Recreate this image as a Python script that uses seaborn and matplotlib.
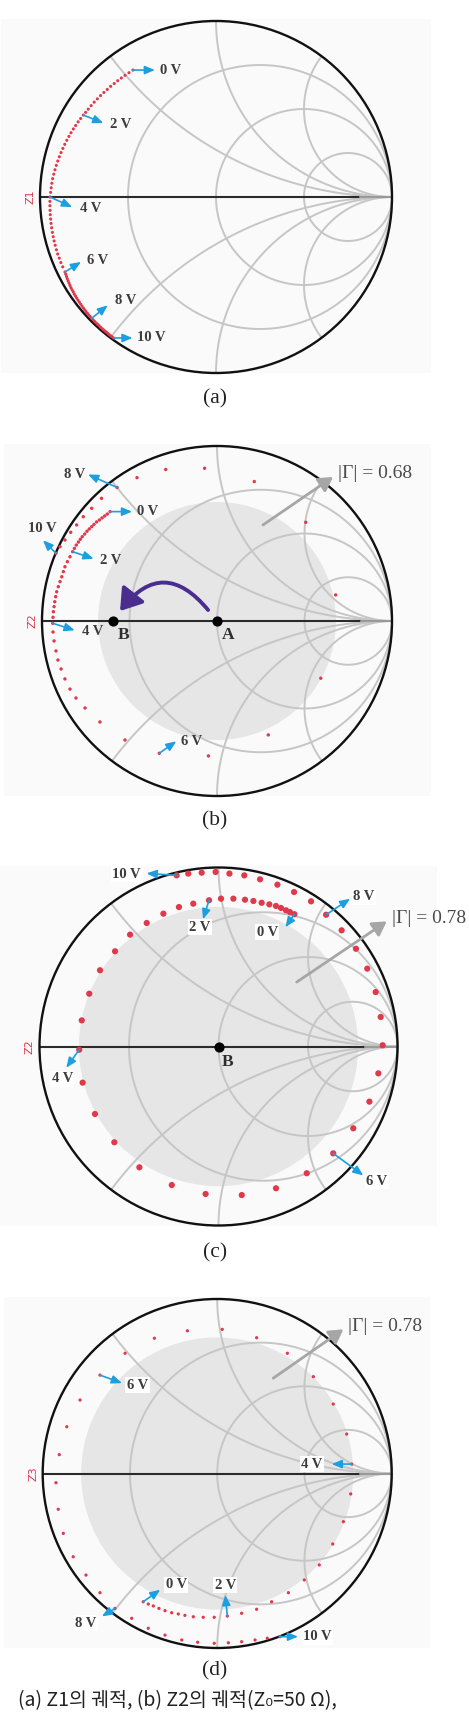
import numpy as np
import pandas as pd
import seaborn as sns
import matplotlib
matplotlib.use("Agg")
from matplotlib import pyplot as plt
from matplotlib.patches import Circle, Rectangle, FancyArrowPatch


# ~~ reflection coefficient trajectories ~~

# (a) Z1 : phase (deg) and magnitude of Gamma
z1_phase = [123.2, 125.0, 126.8, 128.5, 130.2, 131.9, 133.6, 135.3, 137.0, 138.7,
            140.4, 142.1, 143.8, 145.5, 147.0, 148.3,
            149.9, 151.4, 153.0, 154.5, 156.1, 157.6, 159.2, 160.8, 162.4, 164.0,
            165.6, 167.2, 168.8, 170.4, 172.0, 173.6, 175.2, 176.8, 178.4, 180.0,
            181.5, 183.0, 184.6, 186.1, 187.6, 189.1, 190.6, 192.2, 193.7, 195.2,
            196.7, 198.3, 199.8, 201.3, 202.9, 204.5, 206.4,
            207.2, 208.0, 208.8, 209.6, 210.4, 211.2, 212.0, 212.8, 213.6, 214.4,
            215.2, 216.0, 216.8, 217.6, 218.4, 219.2, 220.0, 220.7, 221.4, 222.1,
            222.8, 223.5, 224.3,
            225.0, 225.7, 226.4, 227.1, 227.8, 228.5, 229.2, 229.8, 230.4, 231.0,
            231.6, 232.2, 232.8, 233.4, 234.0]
z1_mag = [.862, .862, .863, .864, .865, .866, .868, .869, .871, .873,
          .875, .877, .879, .881, .883, .886,
          .889, .892, .895, .898, .901, .904, .907, .910, .913, .916,
          .919, .922, .925, .928, .931, .934, .936, .938, .940, .943,
          .944, .945, .946, .947, .948, .949, .950, .951, .952, .953,
          .954, .955, .956, .956, .957, .957, .958,
          .960, .962, .964, .966, .968, .970, .972, .973, .974, .976,
          .977, .978, .979, .980, .981, .982, .983, .984, .985, .985,
          .986, .986, .987,
          .987, .988, .988, .988, .988, .989, .989, .989, .989, .989,
          .989, .990, .990, .990, .990]

# (b) Z2 (A -> B), real / imaginary part of Gamma
z2b_re = [-0.611, -0.627, -0.642, -0.657, -0.672, -0.688, -0.703, -0.716, -0.730, -0.743,
          -0.756, -0.770, -0.781, -0.792, -0.804, -0.815, -0.825,
          -0.840, -0.855, -0.869, -0.878, -0.887, -0.897, -0.907, -0.916, -0.922,
          -0.927, -0.931, -0.935, -0.937, -0.939,
          -0.937, -0.931, -0.920, -0.909, -0.891, -0.869, -0.840, -0.806, -0.754,
          -0.669, -0.526, -0.330,
          -0.049, 0.293, 0.593, 0.678, 0.507, 0.213, -0.071, -0.293, -0.457, -0.571,
          -0.660, -0.716, -0.764, -0.802, -0.836, -0.869, -0.897, -0.920]
z2b_im = [0.625, 0.611, 0.600, 0.589, 0.577, 0.566, 0.552, 0.539, 0.526, 0.513,
          0.497, 0.482, 0.467, 0.451, 0.434, 0.415, 0.396,
          0.367, 0.339, 0.310, 0.282, 0.253, 0.225, 0.196, 0.167, 0.139,
          0.110, 0.082, 0.053, 0.021, -0.013,
          -0.063, -0.114, -0.171, -0.223, -0.274, -0.331, -0.389, -0.440, -0.497,
          -0.577, -0.680, -0.756,
          -0.771, -0.651, -0.327, 0.149, 0.564, 0.797, 0.873, 0.866, 0.819, 0.763,
          0.701, 0.644, 0.596, 0.549, 0.507, 0.463, 0.425, 0.387]

# (c) Z2 at B
z2c_re = [0.424, 0.399, 0.377, 0.349, 0.321, 0.284, 0.241, 0.195, 0.148, 0.083,
          0.014, -0.053, -0.141, -0.221, -0.308, -0.401, -0.494, -0.578, -0.662,
          -0.722, -0.764, -0.778, -0.759, -0.690, -0.582, -0.442, -0.261, -0.072,
          0.130, 0.321, 0.493, 0.641, 0.753, 0.843, 0.893, 0.917, 0.906, 0.878,
          0.831, 0.768, 0.688, 0.601, 0.517, 0.422, 0.329, 0.232, 0.144, 0.061,
          -0.016, -0.094, -0.169, -0.234]
z2c_im = [0.739, 0.751, 0.761, 0.774, 0.785, 0.794, 0.803, 0.813, 0.820, 0.826,
          0.826, 0.817, 0.798, 0.779, 0.742, 0.690, 0.625, 0.532, 0.426,
          0.295, 0.146, -0.018, -0.202, -0.377, -0.535, -0.675, -0.774, -0.824,
          -0.830, -0.792, -0.708, -0.597, -0.457, -0.308, -0.150, 0.007, 0.165, 0.304,
          0.435, 0.546, 0.649, 0.736, 0.811, 0.863, 0.904, 0.934, 0.956, 0.966,
          0.975, 0.971, 0.966, 0.956]

# (d) Z3
z3_re = [-0.424, -0.395, -0.366, -0.334, -0.299, -0.261, -0.223, -0.185, -0.137, -0.080,
         -0.017, 0.058, 0.140, 0.226, 0.312, 0.408, 0.499, 0.585, 0.662, 0.723,
         0.765, 0.771, 0.742, 0.665, 0.551, 0.402, 0.226, 0.029, -0.171, -0.360,
         -0.528, -0.672, -0.786, -0.862, -0.905, -0.924, -0.911, -0.882, -0.825,
         -0.752, -0.672, -0.586, -0.490, -0.395, -0.299, -0.203, -0.112, -0.017,
         0.064, 0.140, 0.217, 0.287, 0.360]
z3_im = [-0.735, -0.748, -0.759, -0.773, -0.786, -0.798, -0.805, -0.813, -0.821, -0.824,
         -0.824, -0.817, -0.801, -0.778, -0.735, -0.683, -0.610, -0.524, -0.404, -0.276,
         -0.117, 0.054, 0.226, 0.398, 0.555, 0.689, 0.778, 0.826, 0.818, 0.775,
         0.689, 0.564, 0.421, 0.268, 0.108, -0.053, -0.205, -0.343, -0.477,
         -0.582, -0.683, -0.773, -0.830, -0.887, -0.926, -0.954, -0.967, -0.973,
         -0.970, -0.964, -0.954, -0.944, -0.935]

volt_labels = ["0 V", "2 V", "4 V", "6 V", "8 V", "10 V"]
z1_volt_idx = [0, 15, 35, 52, 75, 90]
z2b_volt_idx = [0, 16, 30, 42, 52, 60]
z2c_volt_idx = [0, 11, 21, 31, 41, 51]
z3_volt_idx = [0, 11, 21, 31, 41, 52]

gamma_limits = {"b": 0.68, "c": 0.78, "d": 0.78}
point_A = (0.0, 0.0)
point_B_b = (-0.594, 0.0)
point_B_c = (0.0, 0.0)

caption_kr = "(a) Z1의 궤적, (b) Z2의 궤적(Z₀=50 Ω),"


RED = "#e0394b"
BLUE = "#1c9fe0"
GRID = "#c6c6c6"
TXT = "#3c3c3c"
GREY_ARROW = "#a6a6a6"

sns.set_style("white")
plt.rcParams["font.family"] = ["Liberation Serif", "DejaVu Serif"]

W, H = 469, 1712
fig = plt.figure(figsize=(W / 100, H / 100), dpi=100)


def make_ax(cx, cy, R, top, bot):
    """axes spanning full width, Gamma units mapped onto pixels"""
    ax = fig.add_axes([0, 1 - bot / H, 1, (bot - top) / H])
    ax.set_xlim(-cx / R, (W - cx) / R)
    ax.set_ylim((cy - bot) / R, (cy - top) / R)
    ax.set_axis_off()
    return ax


def smith_grid(ax, disk=None):
    ax.add_patch(Rectangle((-1.22, -1.0), 2.44, 2.01, fc="#fafafa", ec="none", zorder=0))
    if disk is not None:
        ax.add_patch(Circle((0, 0), disk, fc="#e6e6e6", ec="none", zorder=1))
    t = np.linspace(0, 2 * np.pi, 1500)
    for r in [1 / 3, 1, 3]:
        c, rad = r / (r + 1), 1 / (r + 1)
        ax.plot(c + rad * np.cos(t), rad * np.sin(t), color=GRID, lw=1.4, zorder=2)
    for x in [0.5, 1, 2]:
        for s in [1, -1]:
            px = 1 + np.cos(t) / x
            py = s / x + np.sin(t) / x
            inside = px ** 2 + py ** 2 <= 1.0
            ax.plot(np.where(inside, px, np.nan), np.where(inside, py, np.nan),
                    color=GRID, lw=1.4, zorder=2)
    ax.plot([-1, 0.82], [0, 0], color="#2b2b2b", lw=1.5, zorder=3)
    ax.plot([0.82, 1], [0, 0], color="#9a9a9a", lw=1.5, zorder=3)
    ax.add_patch(Circle((0, 0), 1, fill=False, ec="#111111", lw=1.7, zorder=3))


def dots(ax, re, im, size):
    df = pd.DataFrame({"re": re, "im": im})
    sns.scatterplot(data=df, x="re", y="im", ax=ax, s=size, color=RED,
                    edgecolor="none", linewidth=0, legend=False, zorder=4)
    ax.set_xlabel("")
    ax.set_ylabel("")


def volt_marks(ax, re, im, idx, arrows, texts, box=False):
    for lab, i, (adx, ady), (tdx, tdy, ha) in zip(volt_labels, idx, arrows, texts):
        p = (re[i], im[i])
        ax.annotate("", xy=p, xytext=(adx, ady), textcoords="offset pixels",
                    arrowprops=dict(arrowstyle="<|-,head_length=0.6,head_width=0.25",
                                    color=BLUE, lw=1.2, shrinkA=0, shrinkB=0,
                                    mutation_scale=10), zorder=5)
        bbox = dict(fc="white", ec="none", pad=1.0) if box else None
        ax.annotate(lab, xy=p, xytext=(tdx, tdy), textcoords="offset pixels",
                    ha=ha, va="center", fontsize=10.5, fontweight="bold",
                    color=TXT, bbox=bbox, zorder=6)


def gamma_note(ax, tail, head, text):
    ax.annotate("", xy=head, xytext=tail,
                arrowprops=dict(arrowstyle="-|>,head_length=0.6,head_width=0.35",
                                color=GREY_ARROW, lw=2.0, shrinkA=0, shrinkB=0,
                                mutation_scale=14), zorder=5)
    ax.annotate(text, xy=head, xytext=(5, 3), textcoords="offset pixels",
                ha="left", va="center", fontsize=14, color="#4a4a4a", zorder=6)


def z_label(ax, text):
    ax.text(-1.055, 0, text, rotation=90, ha="center", va="center",
            fontsize=8, color=RED, family=["DejaVu Sans"])


def point(ax, p, lab, off):
    ax.scatter([p[0]], [p[1]], s=40, color="black", zorder=6)
    ax.annotate(lab, xy=p, xytext=off, textcoords="offset pixels", ha="center",
                va="center", fontsize=12.5, fontweight="bold", color="#2e2e2e", zorder=6)


# ---- (a) ----
ax = make_ax(216, 197, 176, 0, 410)
smith_grid(ax)
ph = np.deg2rad(z1_phase)
z1_re = list(np.array(z1_mag) * np.cos(ph))
z1_im = list(np.array(z1_mag) * np.sin(ph))
dots(ax, z1_re, z1_im, 5)
volt_marks(ax, z1_re, z1_im, z1_volt_idx,
           [(22, 0), (20, -8), (22, -10), (16, 10), (16, 13), (19, 0)],
           [(27, 0, "left"), (27, -9, "left"), (30, -11, "left"),
            (22, 11, "left"), (23, 18, "left"), (23, 0, "left")])
z_label(ax, "Z1")

# ---- (b) ----
ax = make_ax(217, 621, 175, 410, 835)
smith_grid(ax, gamma_limits["b"])
dots(ax, z2b_re, z2b_im, 6)
volt_marks(ax, z2b_re, z2b_im, z2b_volt_idx,
           [(22, 0), (21, -7), (22, -7), (17, 12), (-29, 13), (-13, 13)],
           [(27, 0, "left"), (27, -9, "left"), (29, -8, "left"),
            (22, 12, "left"), (-32, 13, "right"), (-14, 25, "center")])
gamma_note(ax, (0.263, 0.549), (0.663, 0.823), "|Γ| = 0.68")
ax.add_patch(FancyArrowPatch((-0.051, 0.063), (-0.554, 0.057),
                             connectionstyle="arc3,rad=0.62",
                             arrowstyle="-|>,head_length=0.9,head_width=0.6",
                             mutation_scale=14, lw=2.8, color="#4b2d8f",
                             shrinkA=0, shrinkB=0, zorder=5))
point(ax, point_B_b, "B", (10, -14))
point(ax, point_A, "A", (11, -14))
z_label(ax, "Z2")

# ---- (c) ----
ax = make_ax(218.5, 1046.5, 179, 835, 1262)
smith_grid(ax, gamma_limits["c"])
dots(ax, z2c_re, z2c_im, 20)
volt_marks(ax, z2c_re, z2c_im, z2c_volt_idx,
           [(-9, -13), (-6, -19), (-13, -18), (30, -22), (24, 16), (-30, 2)],
           [(-27, -18, "center"), (-9, -27, "center"), (-17, -29, "center"),
            (33, -28, "left"), (27, 18, "left"), (-36, 1, "right")], box=True)
gamma_note(ax, (0.437, 0.360), (0.940, 0.699), "|Γ| = 0.78")
point(ax, point_B_c, "B", (9, -15))
z_label(ax, "Z2")

# ---- (d) ----
ax = make_ax(217.2, 1473.5, 174.5, 1262, 1712)
smith_grid(ax, gamma_limits["d"])
dots(ax, z3_re, z3_im, 5.5)
volt_marks(ax, z3_re, z3_im, z3_volt_idx,
           [(17, 12), (-2, 21), (-20, 0), (22, -8), (-13, -8), (18, 0)],
           [(33, 17, "center"), (-2, 31, "center"), (-40, 0, "center"),
            (27, -10, "left"), (-29, -15, "center"), (23, 0, "left")], box=True)
gamma_note(ax, (0.321, 0.546), (0.723, 0.826), "|Γ| = 0.78")
z_label(ax, "Z3")

# captions
for lab, yc in zip(["(a)", "(b)", "(c)", "(d)"], [399, 821, 1253, 1671]):
    fig.text(215 / W, 1 - yc / H, lab, ha="center", va="center", fontsize=15.5, color="#222222")
fig.text(18 / W, 1 - 1711 / H, caption_kr, ha="left", va="bottom", fontsize=14,
         color="#222222", family=["Noto Sans CJK KR", "DejaVu Sans"])

fig.savefig("out.png", dpi=100)
